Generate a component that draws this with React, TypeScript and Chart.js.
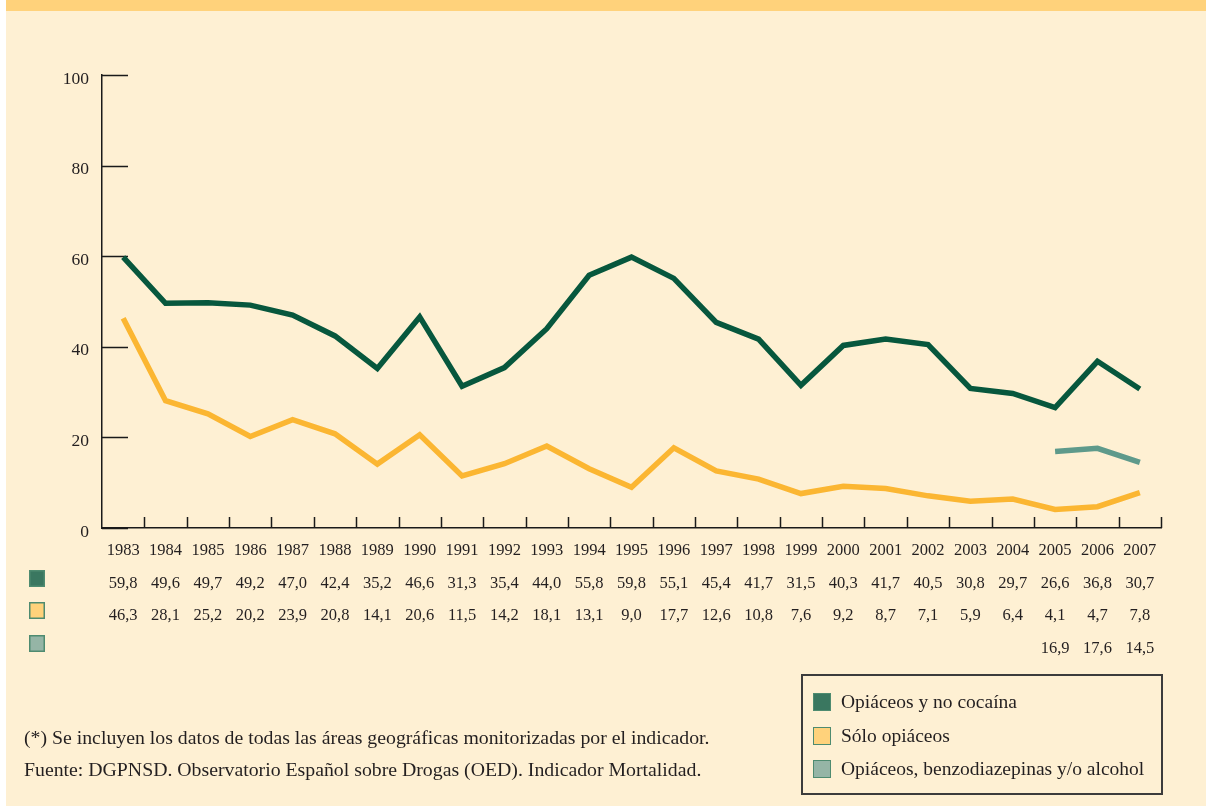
import React, { useEffect, useRef } from 'react';
import { Chart, registerables } from 'chart.js';

Chart.register(...registerables);

const years = ['1983', '1984', '1985', '1986', '1987', '1988', '1989', '1990', '1991', '1992', '1993', '1994', '1995', '1996', '1997', '1998', '1999', '2000', '2001', '2002', '2003', '2004', '2005', '2006', '2007'];
const opiaceosNoCocaina = [59.8, 49.6, 49.7, 49.2, 47.0, 42.4, 35.2, 46.6, 31.3, 35.4, 44.0, 55.8, 59.8, 55.1, 45.4, 41.7, 31.5, 40.3, 41.7, 40.5, 30.8, 29.7, 26.6, 36.8, 30.7];
const soloOpiaceos = [46.3, 28.1, 25.2, 20.2, 23.9, 20.8, 14.1, 20.6, 11.5, 14.2, 18.1, 13.1, 9.0, 17.7, 12.6, 10.8, 7.6, 9.2, 8.7, 7.1, 5.9, 6.4, 4.1, 4.7, 7.8];
const opiaceosBenzo: (number | null)[] = [null, null, null, null, null, null, null, null, null, null, null, null, null, null, null, null, null, null, null, null, null, null, 16.9, 17.6, 14.5];
const yTicks = [0, 20, 40, 60, 80, 100];
const seriesNames = ['Opiáceos y no cocaína', 'Sólo opiáceos', 'Opiáceos, benzodiazepinas y/o alcohol'];
const seriesColors = ['#07573D', '#FBB632', '#5E9A8B'];
const swatchFills = ['#3A7760', '#FFD27B', '#95B5A6'];
const swatchBorder = '#4E8B70';
const footnotes = [
  '(*) Se incluyen los datos de todas las áreas geográficas monitorizadas por el indicador.',
  'Fuente: DGPNSD. Observatorio Español sobre Drogas (OED). Indicador Mortalidad.',
];

const FONT = '"Liberation Serif", "DejaVu Serif", serif';
const TEXT = '#231F20';
const AXIS = '#1A1A1A';

const fmt = (v: number | null) => (v === null ? '' : v.toFixed(1).replace('.', ','));

const customPlugin = {
  id: 'customAxesTable',
  beforeDatasetsDraw(chart: any) {
    const { ctx, chartArea, scales } = chart;
    const x = scales.x;
    const y = scales.y;
    ctx.save();
    ctx.strokeStyle = AXIS;
    ctx.lineWidth = 1.5;
    ctx.beginPath();
    yTicks.forEach((v) => {
      const py = Math.round(y.getPixelForValue(v)) + 0.5;
      ctx.moveTo(chartArea.left, py);
      ctx.lineTo(chartArea.left + 26, py);
    });
    const n = years.length;
    const step = x.getPixelForValue(1) - x.getPixelForValue(0);
    for (let i = 1; i <= n; i++) {
      const px = Math.round(x.getPixelForValue(i - 1) + step / 2) + 0.5;
      ctx.moveTo(px, chartArea.bottom);
      ctx.lineTo(px, chartArea.bottom - 11);
    }
    ctx.stroke();
    ctx.restore();
  },
  afterDraw(chart: any) {
    const { ctx, chartArea, scales } = chart;
    const x = scales.x;
    const rows = [opiaceosNoCocaina, soloOpiaceos, opiaceosBenzo];
    const baselines = [60, 92, 125];
    ctx.save();
    ctx.font = '16.5px ' + FONT;
    ctx.textAlign = 'center';
    ctx.textBaseline = 'alphabetic';
    rows.forEach((row, r) => {
      ctx.fillStyle = TEXT;
      row.forEach((v, i) => {
        if (v === null) return;
        ctx.fillText(fmt(v), x.getPixelForValue(i), chartArea.bottom + baselines[r]);
      });
      // swatch
      ctx.fillStyle = swatchFills[r];
      const sy = chartArea.bottom + baselines[r] - 18;
      ctx.fillRect(23, sy, 16, 17);
      ctx.strokeStyle = swatchBorder;
      ctx.lineWidth = 1.5;
      ctx.strokeRect(23.75, sy + 0.75, 14.5, 15.5);
    });
    ctx.restore();
  },
};

export default function App() {
  const canvasRef = useRef<HTMLCanvasElement | null>(null);

  useEffect(() => {
    const canvas = canvasRef.current;
    if (!canvas) return;
    const chart = new Chart(canvas, {
      type: 'line',
      data: {
        labels: years,
        datasets: [
          { label: seriesNames[0], data: opiaceosNoCocaina, borderColor: seriesColors[0], borderWidth: 5.5, pointRadius: 0, tension: 0, borderCapStyle: 'butt' },
          { label: seriesNames[1], data: soloOpiaceos, borderColor: seriesColors[1], borderWidth: 5.5, pointRadius: 0, tension: 0, borderCapStyle: 'butt' },
          { label: seriesNames[2], data: opiaceosBenzo, borderColor: seriesColors[2], borderWidth: 5.5, pointRadius: 0, tension: 0, borderCapStyle: 'butt', spanGaps: false },
        ],
      },
      options: {
        responsive: false,
        animation: false,
        devicePixelRatio: 1,
        layout: { padding: { left: 0, right: 45, top: 64, bottom: 0 } },
        plugins: { legend: { display: false }, tooltip: { enabled: false }, title: { display: false } },
        scales: {
          x: {
            type: 'category',
            offset: true,
            grid: { display: false, offset: true, drawTicks: false },
            border: { display: true, color: AXIS, width: 1.5 },
            ticks: { autoSkip: false, maxRotation: 0, minRotation: 0, padding: 13, color: TEXT, font: { family: FONT, size: 16.5 } },
            afterFit: (s: any) => { s.height = 278; },
          },
          y: {
            min: 0,
            max: 100,
            grid: { display: false, drawTicks: false },
            border: { display: true, color: AXIS, width: 1.5 },
            ticks: { stepSize: 20, padding: 13, labelOffset: 4, color: TEXT, font: { family: FONT, size: 17.5 } },
            afterFit: (s: any) => { s.width = 96; },
          },
        },
      },
      plugins: [customPlugin],
    });
    return () => chart.destroy();
  }, []);

  const legendTop = [17, 51, 84];

  return (
    <div style={{ position: 'absolute', left: 0, top: 0, width: 1206, height: 806, background: '#FFFFFF', overflow: 'hidden', fontFamily: FONT, color: TEXT }}>
      <div style={{ position: 'absolute', left: 6, top: 0, width: 1200, height: 806, background: '#FEF0D3' }} />
      <div style={{ position: 'absolute', left: 6, top: 0, width: 1200, height: 11, background: '#FFD27B' }} />
      <canvas ref={canvasRef} width={1200} height={795} style={{ position: 'absolute', left: 6, top: 11, width: 1200, height: 795 }} />
      {footnotes.map((t, i) => (
        <div key={i} style={{ position: 'absolute', left: 24, top: 725 + i * 32, fontSize: 19.8, lineHeight: '24px', whiteSpace: 'nowrap' }}>{t}</div>
      ))}
      <div style={{ position: 'absolute', left: 801, top: 674, width: 362, height: 121, boxSizing: 'border-box', border: '2px solid #3C3C3C' }}>
        {seriesNames.map((name, i) => (
          <div key={i} style={{ position: 'absolute', left: 10, top: legendTop[i] - 3, height: 24, display: 'flex', alignItems: 'center', whiteSpace: 'nowrap' }}>
            <div style={{ width: 18, height: 18, boxSizing: 'border-box', background: swatchFills[i], border: '1.5px solid ' + swatchBorder, marginRight: 10 }} />
            <span style={{ fontSize: 19.5, lineHeight: '24px' }}>{name}</span>
          </div>
        ))}
      </div>
    </div>
  );
}
